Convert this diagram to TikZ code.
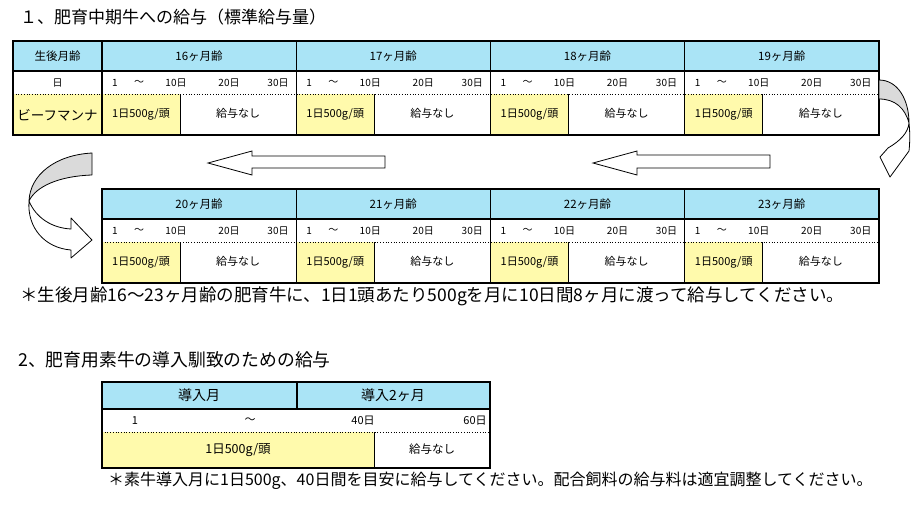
\documentclass[tikz,border=0pt]{standalone}
\usepackage{fontspec}
\setmainfont{Noto Sans CJK JP}
\definecolor{hdr}{RGB}{170,228,246}
\definecolor{ylw}{RGB}{255,250,172}
\definecolor{rib}{RGB}{218,218,218}
\tikzset{
  ttl/.style={font=\fontsize{17}{18}\selectfont, inner sep=0pt, anchor=west},
  note/.style={font=\fontsize{17.5}{18}\selectfont, inner sep=0pt, anchor=west},
  hd/.style={font=\fontsize{11.5}{12}\selectfont, inner sep=0pt},
  dy/.style={font=\fontsize{10}{11}\selectfont, inner sep=0pt},
  ct/.style={font=\fontsize{11}{12}\selectfont, inner sep=0pt},
  frame/.style={line width=1.8pt},
  rule/.style={line width=1.2pt},
  dots/.style={dotted, line width=0.7pt},
  arr/.style={draw=black, line width=0.8pt, fill=white, line join=miter},
  ribbon/.style={draw=black, line width=0.8pt, line join=round}
}
\begin{document}
\begin{tikzpicture}[x=1pt,y=-1pt]
\useasboundingbox (0,0) rectangle (918,507);
\fill[white] (0,0) rectangle (918,507);

% ---------- Title 1 ----------
\node[ttl] (t1) at (20,17) {１、肥育中期牛への給与（標準給与量）};

% ---------- Table 1 (16-19) ----------
\fill[hdr] (13,41) rectangle (879,71);
\fill[ylw] (13,94) rectangle (102,135);
\foreach \i in {0,...,3}{
  \pgfmathsetmacro\xs{102+194.25*\i}
  \fill[ylw] (\xs,94) rectangle ({\xs+78},135);
  \draw[line width=1pt] ({\xs+78},94) -- ({\xs+78},135);
}
\draw[rule] (13,71) -- (879,71);
\draw[dots] (13,94) -- (879,94);
\foreach \i in {0,...,3}{
  \pgfmathsetmacro\xs{102+194.25*\i}
  \draw[rule] (\xs,41) -- (\xs,135);
}
\draw[frame] (13,41) rectangle (879,135);

\node[hd] (l1) at (57.5,56) {生後月齢};
\node[dy] (l2) at (57.5,83) {日};
\node[font=\fontsize{13.5}{14}\selectfont, inner sep=0pt] (l3) at (57.5,115) {ビーフマンナ};

\foreach \i/\m in {0/16,1/17,2/18,3/19}{
  \pgfmathsetmacro\xs{102+194.25*\i}
  \node[hd] (h\m) at ({\xs+97},56) {\m ヶ月齢};
  \node[dy] (a\m) at ({\xs+13},83) {1};
  \node[dy] (b\m) at ({\xs+37},83) {〜};
  \node[dy] (c\m) at ({\xs+74},83) {10日};
  \node[dy] (d\m) at ({\xs+127},83) {20日};
  \node[dy] (e\m) at ({\xs+176},83) {30日};
  \node[ct] (f\m) at ({\xs+39},115) {1日500g/頭};
  \node[ct] (g\m) at ({\xs+136},113) {給与なし};
}

% ---------- Straight arrows ----------
\draw[arr] (385,156) -- (252,156) -- (252,151) -- (208,163) -- (252,175) -- (252,168) -- (385,168) -- cycle;
\draw[arr] (770,155) -- (637,155) -- (637,151) -- (593,163) -- (637,175) -- (637,168) -- (770,168) -- cycle;

% ---------- Right curved arrow ----------
\filldraw[ribbon, fill=rib] (879,80) .. controls (898,80) and (909,100) .. (909,123)
  .. controls (905,108) and (895,99) .. (879,99) -- cycle;
\filldraw[ribbon, fill=white] (909,123) .. controls (910,132) and (910,142) .. (909,151)
  -- (890,177) -- (880,157) -- (888,148)
  .. controls (900,141) and (908,133) .. (909,123) -- cycle;

% ---------- Left curved arrow ----------
\filldraw[ribbon, fill=rib] (92,153) .. controls (55,155) and (30,175) .. (29,201)
  .. controls (36,186) and (60,176) .. (92,175) -- cycle;
\filldraw[ribbon, fill=white] (29,201) .. controls (36,218) and (52,228) .. (71,229)
  -- (71,218) -- (92,240) -- (71,258) -- (71,250)
  .. controls (45,248) and (27,228) .. (29,201) -- cycle;

% ---------- Table 1b (20-23) ----------
\fill[hdr] (102,189) rectangle (879,219);
\foreach \i in {0,...,3}{
  \pgfmathsetmacro\xs{102+194.25*\i}
  \fill[ylw] (\xs,242) rectangle ({\xs+78},283);
  \draw[line width=1pt] ({\xs+78},242) -- ({\xs+78},283);
}
\draw[rule] (102,219) -- (879,219);
\draw[dots] (102,242) -- (879,242);
\foreach \i in {1,...,3}{
  \pgfmathsetmacro\xs{102+194.25*\i}
  \draw[rule] (\xs,189) -- (\xs,283);
}
\draw[frame] (102,189) rectangle (879,283);

\foreach \i/\m in {0/20,1/21,2/22,3/23}{
  \pgfmathsetmacro\xs{102+194.25*\i}
  \node[hd] (h\m) at ({\xs+97},204) {\m ヶ月齢};
  \node[dy] (a\m) at ({\xs+13},231) {1};
  \node[dy] (b\m) at ({\xs+37},231) {〜};
  \node[dy] (c\m) at ({\xs+74},231) {10日};
  \node[dy] (d\m) at ({\xs+127},231) {20日};
  \node[dy] (e\m) at ({\xs+176},231) {30日};
  \node[ct] (f\m) at ({\xs+39},263) {1日500g/頭};
  \node[ct] (g\m) at ({\xs+136},261) {給与なし};
}

\node[note] (n1) at (20,296) {＊生後月齢16〜23ヶ月齢の肥育牛に、1日1頭あたり500gを月に10日間8ヶ月に渡って給与してください。};

% ---------- Title 2 ----------
\node[ttl, font=\fontsize{17.8}{18}\selectfont] (t2) at (18,360) {2、肥育用素牛の導入馴致のための給与};

% ---------- Table 2 ----------
\fill[hdr] (102,382) rectangle (490,409);
\fill[ylw] (102,432) rectangle (374,468);
\draw[rule] (102,409) -- (490,409);
\draw[dots] (102,432) -- (490,432);
\draw[rule] (297,382) -- (297,409);
\draw[line width=1pt] (374,432) -- (374,468);
\draw[frame] (102,382) rectangle (490,468);

\node[font=\fontsize{14}{15}\selectfont, inner sep=0pt] (p1) at (199,395) {導入月};
\node[font=\fontsize{14}{15}\selectfont, inner sep=0pt] (p2) at (393,395) {導入2ヶ月};
\node[font=\fontsize{11}{12}\selectfont, inner sep=0pt] (q1) at (135,421) {1};
\node[font=\fontsize{11}{12}\selectfont, inner sep=0pt] (q2) at (250,421) {〜};
\node[font=\fontsize{11}{12}\selectfont, inner sep=0pt] (q3) at (363,421) {40日};
\node[font=\fontsize{11}{12}\selectfont, inner sep=0pt] (q4) at (475,421) {60日};
\node[font=\fontsize{12.5}{13}\selectfont, inner sep=0pt] (r1) at (238,450) {1日500g/頭};
\node[font=\fontsize{11.5}{12}\selectfont, inner sep=0pt] (r2) at (432,449) {給与なし};

\node[note, font=\fontsize{16}{17}\selectfont] (n2) at (108,481) {＊素牛導入月に1日500g、40日間を目安に給与してください。配合飼料の給与料は適宜調整してください。};
\end{tikzpicture}
\end{document}
